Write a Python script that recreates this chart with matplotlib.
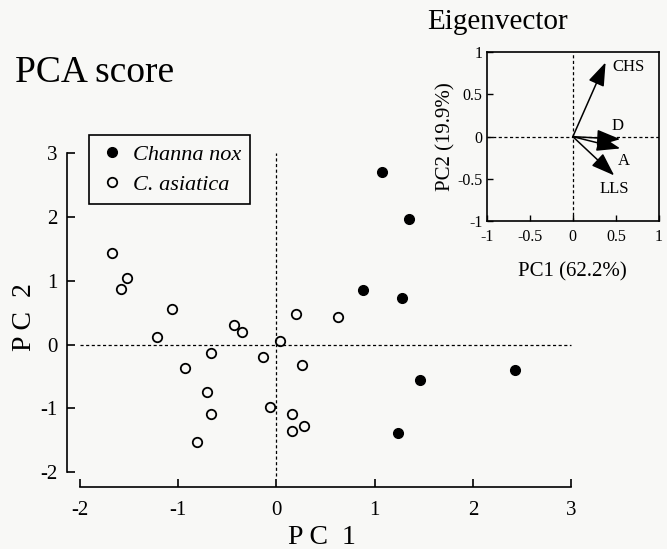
import matplotlib
matplotlib.use("Agg")
import matplotlib.pyplot as plt

# ---- data ----
asiatica_pc1 = [-1.67, -1.52, -1.58, -1.06, -1.21, -0.43, -0.35, -0.66, -0.93, -0.14,
                0.04, 0.20, 0.26, -0.71, -0.66, -0.06, 0.16, 0.28, 0.16, -0.81, 0.63]
asiatica_pc2 = [1.43, 1.05, 0.87, 0.55, 0.125, 0.30, 0.20, -0.125, -0.36, -0.19,
                0.06, 0.48, -0.32, -0.74, -1.09, -0.98, -1.09, -1.28, -1.36, -1.52, 0.44]
nox_pc1 = [1.08, 1.35, 0.88, 1.28, 1.46, 2.43, 1.24]
nox_pc2 = [2.71, 1.96, 0.86, 0.73, -0.55, -0.40, -1.39]

main_xticks = [-2, -1, 0, 1, 2, 3]
main_yticks = [-2, -1, 0, 1, 2, 3]

vec_names = ["CHS", "D", "A", "LLS"]
vec_pc1 = [0.38, 0.55, 0.55, 0.48]
vec_pc2 = [0.88, -0.03, -0.14, -0.46]
vec_label_xy = [(0.46, 0.82), (0.45, 0.13), (0.52, -0.29), (0.31, -0.62)]
inset_ticks = [-1, -0.5, 0, 0.5, 1]
inset_ticklabels = ["-1", "-0.5", "0", "0.5", "1"]

bg = "#f8f8f6"
plt.rcParams["font.family"] = ["Liberation Serif", "DejaVu Serif"]
plt.rcParams["axes.unicode_minus"] = False

fig = plt.figure(figsize=(6.67, 5.49), dpi=100, facecolor=bg)

# ---- main axes ----
ax = fig.add_axes([0.1004, 0.1129, 0.7632, 0.620])
ax.set_facecolor("none")
ax.set_xlim(-2.13, 3.05)
ax.set_ylim(-2.23, 3.1)
for s in ["top", "right"]:
    ax.spines[s].set_visible(False)
ax.spines["left"].set_bounds(-2, 3)
ax.spines["bottom"].set_bounds(-2, 3)
ax.spines["left"].set_linewidth(1.2)
ax.spines["bottom"].set_linewidth(1.2)
ax.set_xticks(main_xticks)
ax.set_yticks(main_yticks)
ax.tick_params(direction="in", length=6, width=1.2, labelsize=15)
ax.tick_params(axis="y", pad=7)
ax.tick_params(axis="x", pad=10)

ax.plot([0, 0], [-2.05, 3.0], ls=(0, (2.5, 2)), color="black", lw=0.9)
ax.plot([-2, 3], [0, 0], ls=(0, (2.5, 2)), color="black", lw=0.9)

ax.plot(asiatica_pc1, asiatica_pc2, "o", ms=6.8, mfc="none", mec="black", mew=1.3,
        ls="none", label="C. asiatica")
ax.plot(nox_pc1, nox_pc2, "o", ms=7, mfc="black", mec="black", ls="none",
        label="Channa nox")

ax.set_xlabel("P C  1", fontsize=20, labelpad=4)
ax.set_ylabel("P C  2", fontsize=20)
ax.yaxis.set_label_coords(-0.058, 0.5)

h, l = ax.get_legend_handles_labels()
leg = fig.legend([h[1], h[0]], [l[1], l[0]], loc="upper left",
                 bbox_to_anchor=(89 / 667, 1 - 135 / 549), borderaxespad=0,
                 fancybox=False, edgecolor="black", framealpha=1, facecolor=bg,
                 prop={"style": "italic", "size": 16}, handletextpad=0.35,
                 handlelength=1.2, borderpad=0.42, labelspacing=0.42)
leg.get_frame().set_linewidth(1.2)

fig.text(15 / 667, 1 - 73 / 549, "PCA score", fontsize=27, va="center", ha="left")

# ---- inset ----
ai = fig.add_axes([0.7297, 0.5975, 0.2583, 0.3072])
ai.set_facecolor("none")
ai.set_xlim(-1, 1)
ai.set_ylim(-1, 1)
for s in ai.spines.values():
    s.set_linewidth(1.2)
ai.set_xticks(inset_ticks)
ai.set_xticklabels(inset_ticklabels)
ai.set_yticks(inset_ticks)
ai.set_yticklabels(inset_ticklabels)
ai.tick_params(direction="in", length=4, width=1, labelsize=11.5)
ai.tick_params(axis="y", pad=3)
ai.tick_params(axis="x", pad=6)
ai.plot([0, 0], [-1, 1], ls=(0, (2.5, 2)), color="black", lw=0.9)
ai.plot([-1, 1], [0, 0], ls=(0, (2.5, 2)), color="black", lw=0.9)
for name, vx, vy, (tx, ty) in zip(vec_names, vec_pc1, vec_pc2, vec_label_xy):
    ai.annotate("", xy=(vx, vy), xytext=(0, 0),
                arrowprops=dict(arrowstyle="-|>,head_length=0.9,head_width=0.32",
                                mutation_scale=16, color="black", lw=1.1,
                                shrinkA=0, shrinkB=0))
    ai.text(tx, ty, name, fontsize=12, ha="left", va="center")
ai.set_xlabel("PC1 (62.2%)", fontsize=15, labelpad=12)
ai.set_ylabel("PC2 (19.9%)", fontsize=15, labelpad=1)
fig.text(497 / 667, 1 - 22 / 549, "Eigenvector", fontsize=21, ha="center", va="center")

fig.savefig("out.png", dpi=100, facecolor=bg)
